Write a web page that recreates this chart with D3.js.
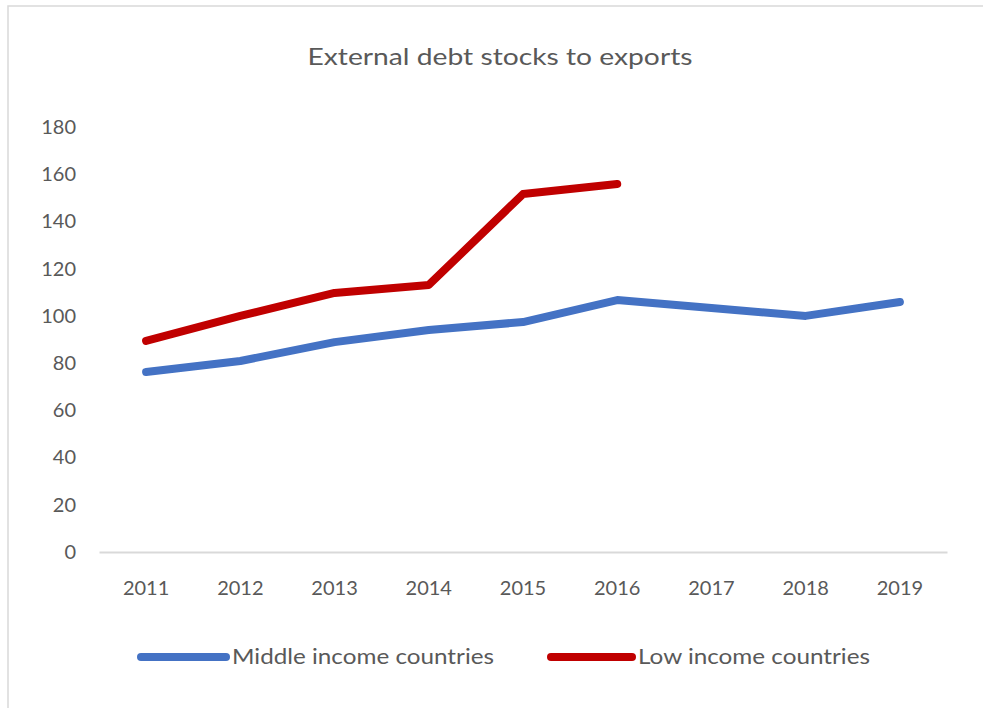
<!DOCTYPE html>
<html>
<head>
<meta charset="utf-8">
<script src="https://cdn.jsdelivr.net/npm/d3@7"></script>
<style>
  html, body { margin: 0; padding: 0; background: #fff; }
  svg { display: block; font-family: Lato, "Open Sans", sans-serif; }
</style>
</head>
<body>
<svg id="chart" width="983" height="708"></svg>
<script>
// Debt stocks as a percentage of exports, by income group
const years = ["2011", "2012", "2013", "2014", "2015", "2016", "2017", "2018", "2019"];
const middleIncome = [76.2, 80.9, 88.9, 94.0, 97.4, 106.7, 103.3, 100.0, 105.9];
const lowIncome = [89.4, 100.0, 109.7, 113.1, 151.6, 155.9, null, null, null];
const yTicks = [0, 20, 40, 60, 80, 100, 120, 140, 160, 180];
const seriesNames = ["Middle income countries", "Low income countries"];
const seriesColors = ["#4472C4", "#C00000"];

const svg = d3.select("#chart");
const textColor = "#595959";
const font = "Lato, sans-serif";

// outer chart frame
svg.append("rect")
  .attr("x", 8).attr("y", 6)
  .attr("width", 1000).attr("height", 720)
  .attr("fill", "none")
  .attr("stroke", "#d9d9d9")
  .attr("stroke-width", 1.5);

const plot = { left: 99, right: 947, top: 127, bottom: 552 };

const x = d3.scaleBand().domain(years).range([plot.left, plot.right]);
const y = d3.scaleLinear().domain([0, 180]).range([plot.bottom, plot.top]);

// title
svg.append("text")
  .attr("x", 500).attr("y", 65)
  .attr("text-anchor", "middle")
  .attr("font-size", 24)
  .attr("fill", textColor)
  .attr("textLength", 385)
  .attr("lengthAdjust", "spacingAndGlyphs")
  .text("External debt stocks to exports");

// y axis labels (no line)
const yAxis = d3.axisLeft(y).tickValues(yTicks).tickSize(0).tickPadding(0);
const gy = svg.append("g").attr("transform", `translate(76,0)`).call(yAxis);
gy.select(".domain").remove();
gy.selectAll("text")
  .attr("font-size", 20)
  .attr("fill", textColor)
  .attr("font-family", font);

// x axis baseline and year labels
const xAxis = d3.axisBottom(x).tickSize(0).tickPadding(0);
const gx = svg.append("g").attr("transform", `translate(0,${plot.bottom})`).call(xAxis);
gx.select(".domain").attr("stroke", "#d9d9d9").attr("stroke-width", 2);
gx.selectAll("text")
  .attr("dy", null)
  .attr("y", 43)
  .attr("font-size", 20)
  .attr("fill", textColor)
  .attr("font-family", font);

// series lines
const line = d3.line()
  .defined(d => d.v != null)
  .x(d => x(d.year) + x.bandwidth() / 2)
  .y(d => y(d.v));

[middleIncome, lowIncome].forEach((vals, i) => {
  svg.append("path")
    .datum(years.map((yr, j) => ({ year: yr, v: vals[j] })))
    .attr("d", line)
    .attr("fill", "none")
    .attr("stroke", seriesColors[i])
    .attr("stroke-width", 8)
    .attr("stroke-linecap", "round")
    .attr("stroke-linejoin", "round");
});

// legend
const legendItems = [
  { x1: 141, x2: 226, tx: 232, len: 262 },
  { x1: 551, x2: 632, tx: 638, len: 232 }
];
legendItems.forEach((it, i) => {
  svg.append("line")
    .attr("x1", it.x1).attr("x2", it.x2)
    .attr("y1", 657).attr("y2", 657)
    .attr("stroke", seriesColors[i])
    .attr("stroke-width", 8)
    .attr("stroke-linecap", "round");
  svg.append("text")
    .attr("x", it.tx).attr("y", 664)
    .attr("font-size", 21)
    .attr("fill", textColor)
    .attr("textLength", it.len)
    .attr("lengthAdjust", "spacingAndGlyphs")
    .text(seriesNames[i]);
});
</script>
</body>
</html>
